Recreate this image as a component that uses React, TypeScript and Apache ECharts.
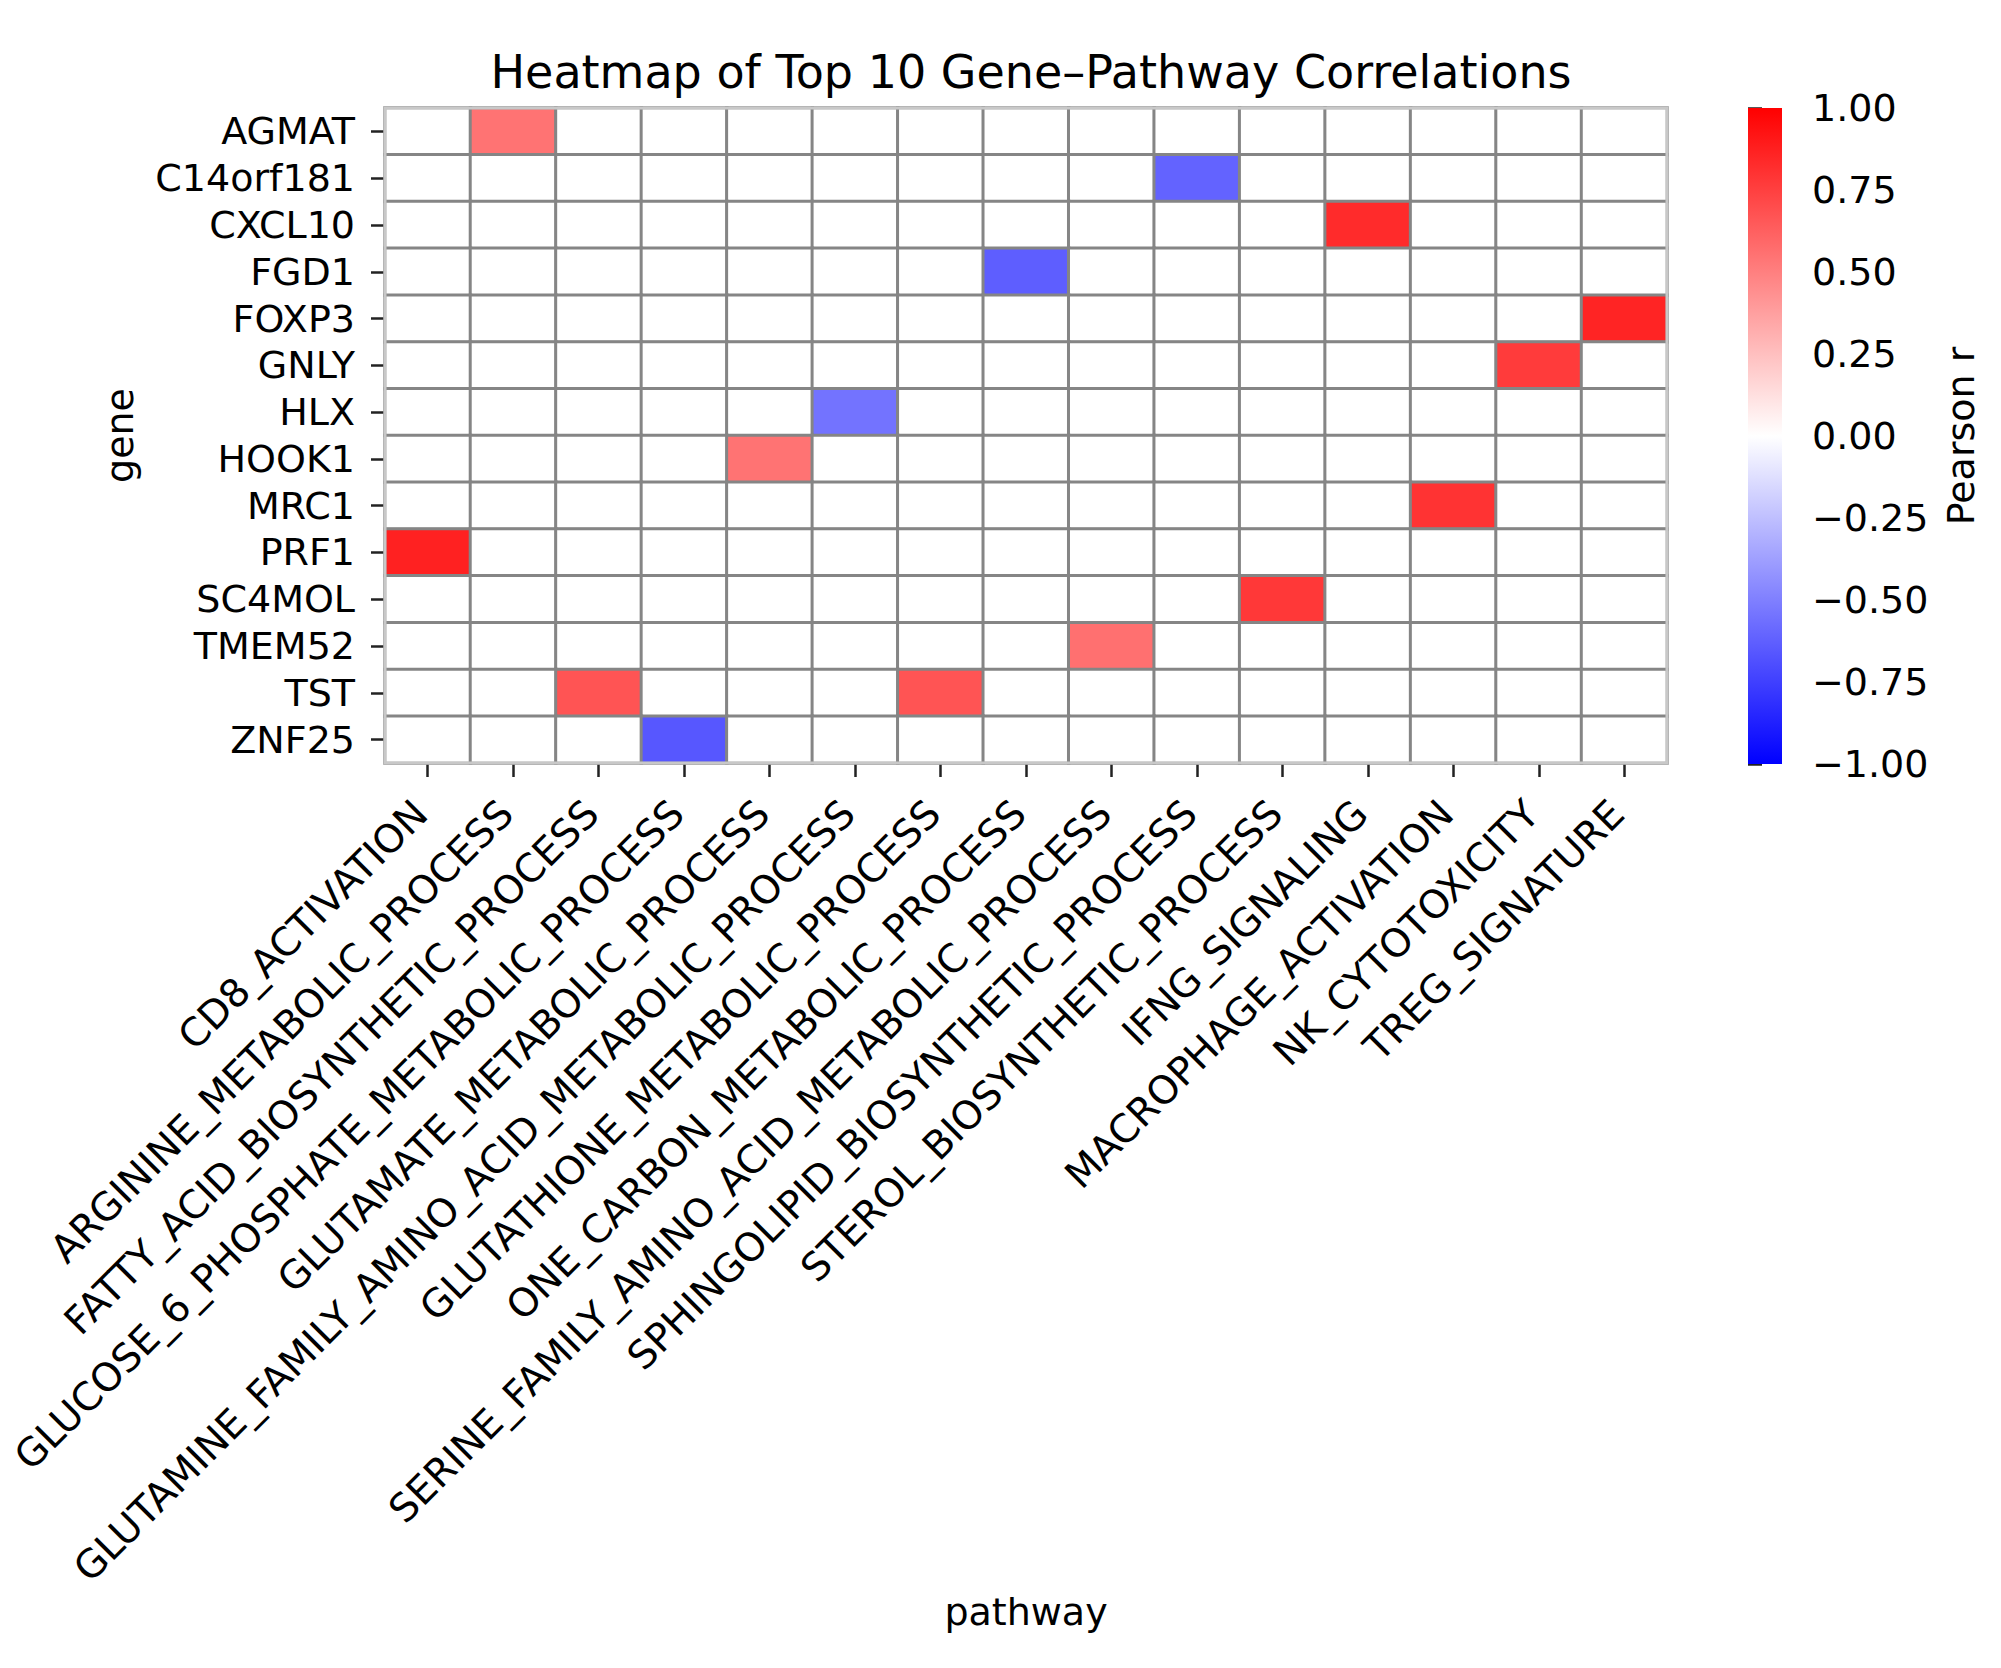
import React, { useEffect, useRef } from "react";
import * as echarts from "echarts";

const genes = [
  "AGMAT", "C14orf181", "CXCL10", "FGD1", "FOXP3", "GNLY", "HLX",
  "HOOK1", "MRC1", "PRF1", "SC4MOL", "TMEM52", "TST", "ZNF25",
];

const pathways = [
  "CD8_ACTIVATION",
  "ARGININE_METABOLIC_PROCESS",
  "FATTY_ACID_BIOSYNTHETIC_PROCESS",
  "GLUCOSE_6_PHOSPHATE_METABOLIC_PROCESS",
  "GLUTAMATE_METABOLIC_PROCESS",
  "GLUTAMINE_FAMILY_AMINO_ACID_METABOLIC_PROCESS",
  "GLUTATHIONE_METABOLIC_PROCESS",
  "ONE_CARBON_METABOLIC_PROCESS",
  "SERINE_FAMILY_AMINO_ACID_METABOLIC_PROCESS",
  "SPHINGOLIPID_BIOSYNTHETIC_PROCESS",
  "STEROL_BIOSYNTHETIC_PROCESS",
  "IFNG_SIGNALING",
  "MACROPHAGE_ACTIVATION",
  "NK_CYTOTOXICITY",
  "TREG_SIGNATURE",
];

// rows follow genes, columns follow pathways (Pearson r)
const correlations = [
  [0, 0.55, 0, 0, 0, 0, 0, 0, 0, 0, 0, 0, 0, 0, 0],
  [0, 0, 0, 0, 0, 0, 0, 0, 0, -0.61, 0, 0, 0, 0, 0],
  [0, 0, 0, 0, 0, 0, 0, 0, 0, 0, 0, 0.83, 0, 0, 0],
  [0, 0, 0, 0, 0, 0, 0, -0.63, 0, 0, 0, 0, 0, 0, 0],
  [0, 0, 0, 0, 0, 0, 0, 0, 0, 0, 0, 0, 0, 0, 0.86],
  [0, 0, 0, 0, 0, 0, 0, 0, 0, 0, 0, 0, 0, 0.77, 0],
  [0, 0, 0, 0, 0, -0.55, 0, 0, 0, 0, 0, 0, 0, 0, 0],
  [0, 0, 0, 0, 0.55, 0, 0, 0, 0, 0, 0, 0, 0, 0, 0],
  [0, 0, 0, 0, 0, 0, 0, 0, 0, 0, 0, 0, 0.8, 0, 0],
  [0.87, 0, 0, 0, 0, 0, 0, 0, 0, 0, 0, 0, 0, 0, 0],
  [0, 0, 0, 0, 0, 0, 0, 0, 0, 0, 0.78, 0, 0, 0, 0],
  [0, 0, 0, 0, 0, 0, 0, 0, 0.56, 0, 0, 0, 0, 0, 0],
  [0, 0, 0.67, 0, 0, 0, 0.67, 0, 0, 0, 0, 0, 0, 0, 0],
  [0, 0, 0, -0.66, 0, 0, 0, 0, 0, 0, 0, 0, 0, 0, 0],
];

const colorbarTicks = { min: -1, max: 1, interval: 0.25 };

const FONT = "DejaVu Sans";
const TXT = "#000000";
const FS = 38;

export default function App() {
  const ref = useRef<HTMLDivElement>(null);

  useEffect(() => {
    document.body.style.margin = "0";
    if (!ref.current) return;
    const chart = echarts.init(ref.current, null, { renderer: "svg" });

    const data: [number, number, number][] = [];
    correlations.forEach((row, r) =>
      row.forEach((v, c) => data.push([c, r, v]))
    );

    const gridLeft = 385, gridTop = 108, gridW = 1282, gridH = 655;
    const cbLeft = 1748, cbTop = 108, cbW = 34, cbH = 656;

    chart.setOption({
      animation: false,
      backgroundColor: "#ffffff",
      title: {
        text: "Heatmap of Top 10 Gene\u2013Pathway Correlations",
        left: 1026,
        top: 44,
        textAlign: "center",
        textStyle: { fontFamily: FONT, fontSize: 46, fontWeight: "normal", color: TXT },
      },
      grid: [
        { left: gridLeft, top: gridTop, width: gridW, height: gridH },
        { left: cbLeft, top: cbTop, width: cbW, height: cbH },
      ],
      xAxis: [
        {
          type: "category",
          gridIndex: 0,
          data: pathways,
          axisLine: { show: false },
          axisTick: { show: true, alignWithLabel: true, length: 14, lineStyle: { color: "#222", width: 2.5 } },
          axisLabel: {
            interval: 0,
            rotate: 45,
            margin: 37,
            padding: [0, 10, 0, 0],
            fontFamily: FONT,
            fontSize: 39,
            color: TXT,
          },
          splitLine: { show: false },
          name: "pathway",
          nameLocation: "middle",
          nameGap: 830,
          nameTextStyle: { fontFamily: FONT, fontSize: FS, color: TXT },
        },
        { type: "value", gridIndex: 1, show: false, min: 0, max: 1 },
      ],
      yAxis: [
        {
          type: "category",
          gridIndex: 0,
          data: genes,
          inverse: true,
          axisLine: { show: false },
          axisTick: { show: true, alignWithLabel: true, length: 14, lineStyle: { color: "#222", width: 2.5 } },
          axisLabel: { interval: 0, margin: 30, fontFamily: FONT, fontSize: FS, color: TXT },
          splitLine: { show: false },
          name: "gene",
          nameLocation: "middle",
          nameGap: 246,
          nameTextStyle: { fontFamily: FONT, fontSize: FS, color: TXT },
        },
        {
          type: "value",
          gridIndex: 1,
          position: "right",
          min: colorbarTicks.min,
          max: colorbarTicks.max,
          interval: colorbarTicks.interval,
          axisLine: { show: false },
          axisTick: { show: true, length: 14, lineStyle: { color: "#222", width: 2.5 } },
          axisLabel: {
            margin: 30,
            fontFamily: FONT,
            fontSize: FS,
            color: TXT,
            formatter: (v: number) => v.toFixed(2).replace("-", "\u2212"),
          },
          splitLine: { show: false },
          name: "Pearson r",
          nameLocation: "middle",
          nameRotate: 90,
          nameGap: 160,
          nameTextStyle: { fontFamily: FONT, fontSize: FS, color: TXT },
        },
      ],
      visualMap: {
        type: "continuous",
        show: false,
        min: -1,
        max: 1,
        dimension: 2,
        seriesIndex: 0,
        inRange: { color: ["#0000ff", "#ffffff", "#ff0000"] },
      },
      graphic: [
        {
          type: "rect",
          z: 1,
          shape: { x: cbLeft, y: cbTop, width: cbW, height: cbH },
          style: {
            fill: new echarts.graphic.LinearGradient(0, 0, 0, 1, [
              { offset: 0, color: "#ff0000" },
              { offset: 0.5, color: "#ffffff" },
              { offset: 1, color: "#0000ff" },
            ]),
          },
        },
        {
          type: "rect",
          z: 100,
          shape: { x: gridLeft, y: gridTop, width: gridW, height: gridH },
          style: { fill: "none", stroke: "#c8c8c8", lineWidth: 3 },
        },
      ],
      series: [
        {
          type: "heatmap",
          xAxisIndex: 0,
          yAxisIndex: 0,
          data,
          itemStyle: { borderColor: "#858585", borderWidth: 3 },
          emphasis: { disabled: true },
          label: { show: false },
        },
        {
          type: "scatter",
          xAxisIndex: 1,
          yAxisIndex: 1,
          data: [],
          silent: true,
        },
      ],
    });

    return () => chart.dispose();
  }, []);

  return <div ref={ref} style={{ width: 2001, height: 1668 }} />;
}
